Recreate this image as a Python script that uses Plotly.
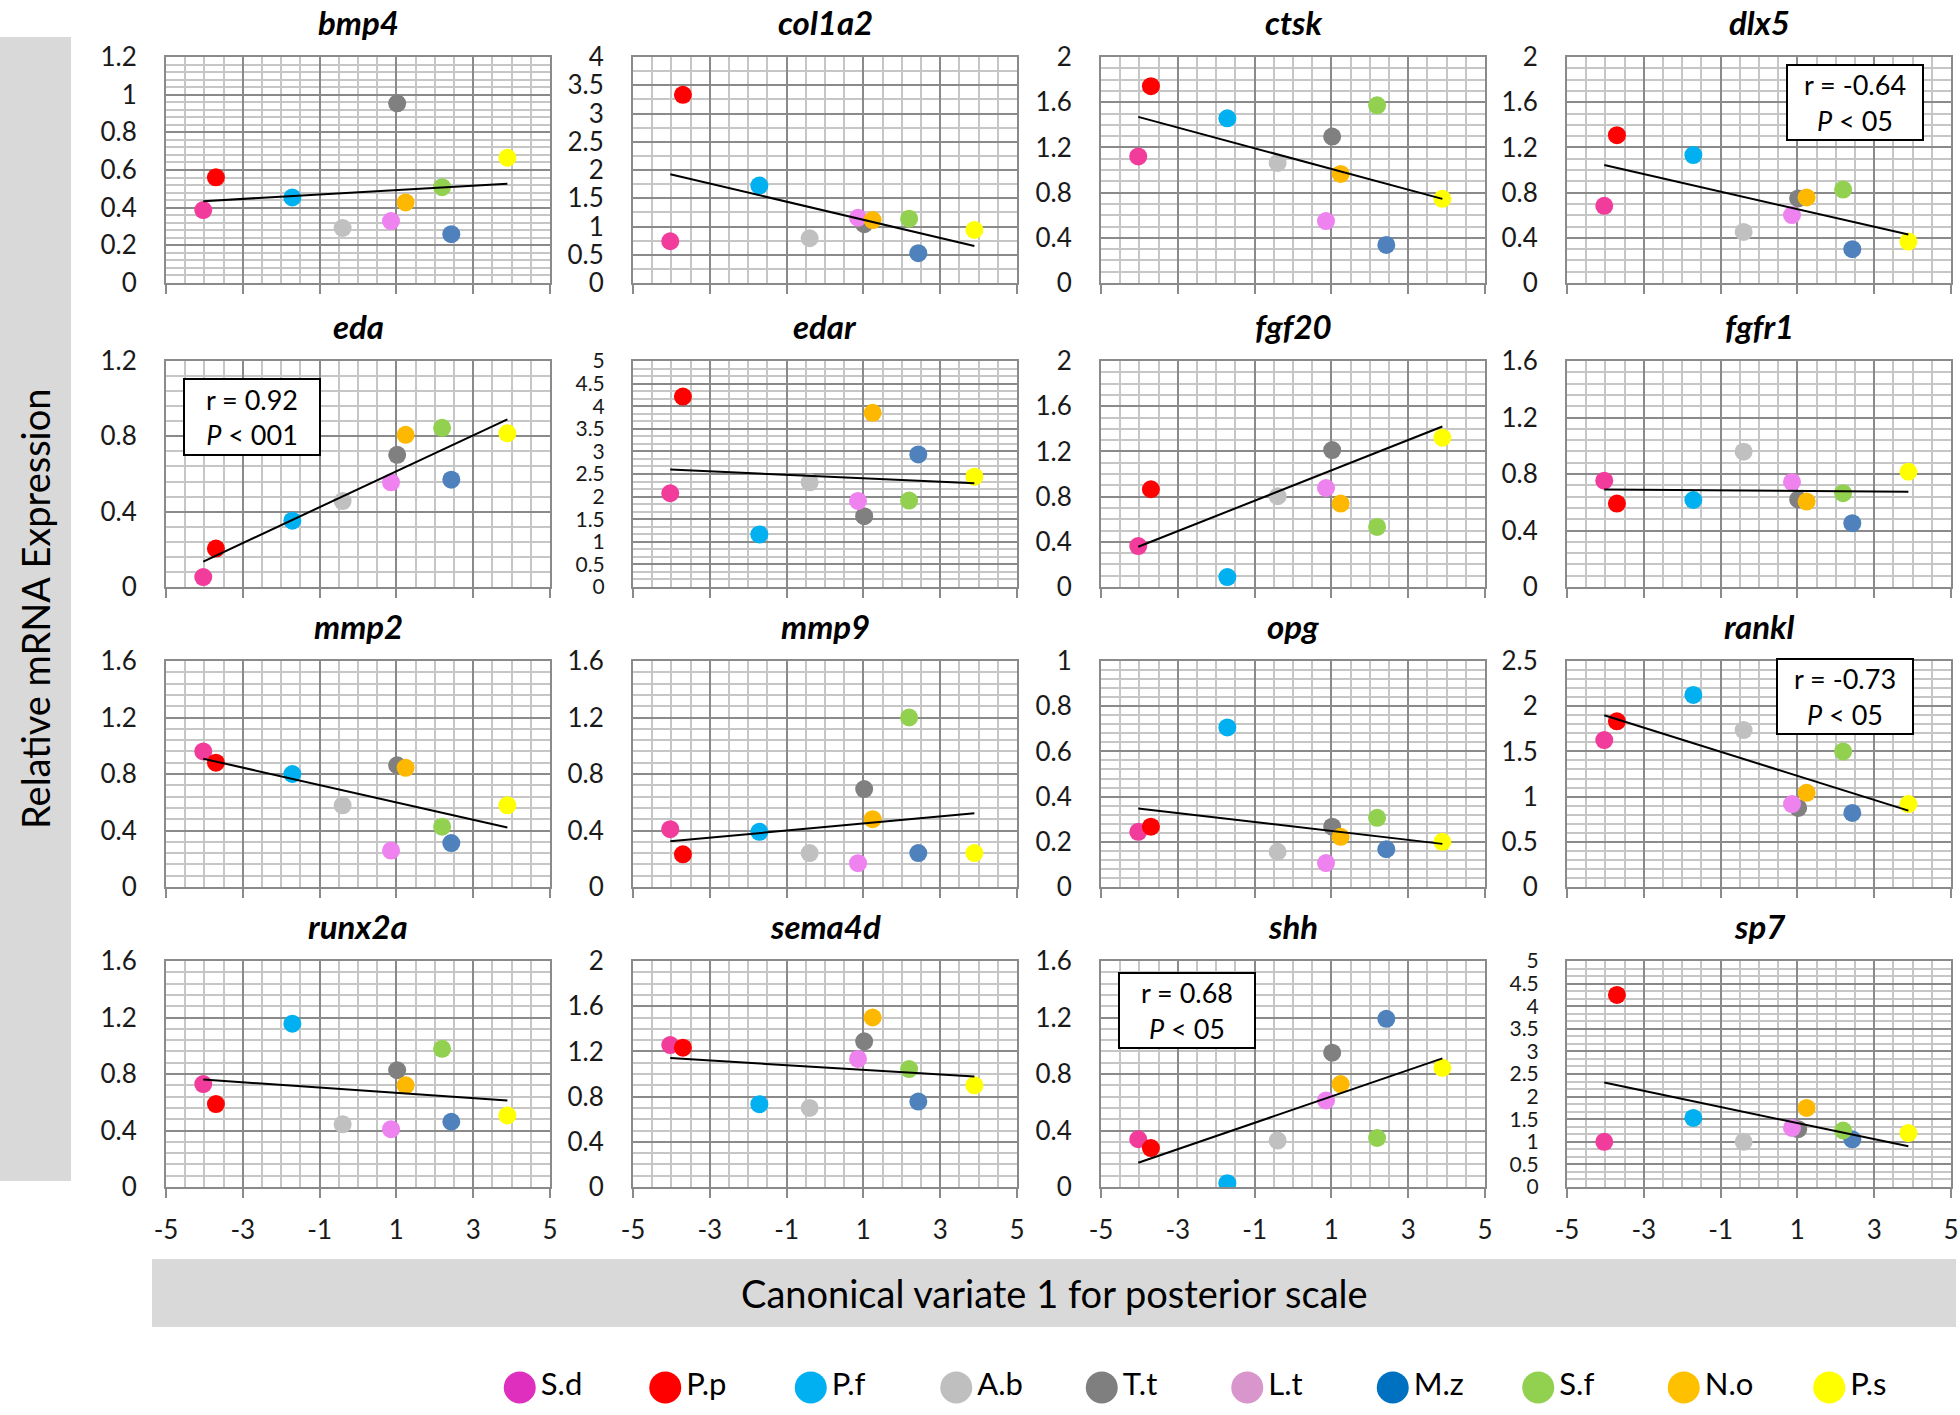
import numpy as np
import plotly.graph_objects as go

# ---------------- data ----------------
species = ["S.d", "P.p", "P.f", "A.b", "T.t", "L.t", "M.z", "S.f", "N.o", "P.s"]
cv1 = [-4.03, -3.70, -1.71, -0.40, 1.02, 0.86, 2.43, 2.19, 1.24, 3.89]

plot_colors = ["#F23C9B", "#FF0000", "#00B0F0", "#C0C0C0", "#808080",
               "#EE82EE", "#4F81BD", "#92D050", "#FFB800", "#FFFF00"]
legend_colors = ["#DF2FBF", "#FF0000", "#00B0F0", "#BFBFBF", "#7F7F7F",
                 "#D896CC", "#0070C0", "#92D050", "#FFC000", "#FFFF00"]

genes = ["bmp4", "col1a2", "ctsk", "dlx5", "eda", "edar", "fgf20", "fgfr1",
         "mmp2", "mmp9", "opg", "rankl", "runx2a", "sema4d", "shh", "sp7"]

bmp4 = [0.387, 0.561, 0.454, 0.292, 0.954, 0.329, 0.259, 0.509, 0.428, 0.665]
col1a2 = [0.739, 3.33, 1.724, 0.792, 1.04, 1.155, 0.528, 1.138, 1.114, 0.938]
ctsk = [1.120, 1.742, 1.457, 1.062, 1.296, 0.548, 0.337, 1.572, 0.965, 0.745]
dlx5 = [0.683, 1.308, 1.132, 0.452, 0.748, 0.601, 0.299, 0.827, 0.757, 0.367]
eda = [0.053, 0.204, 0.352, 0.456, 0.702, 0.556, 0.570, 0.845, 0.808, 0.816]
edar = [2.074, 4.213, 1.162, 2.316, 1.566, 1.904, 2.934, 1.912, 3.853, 2.441]
fgf20 = [0.362, 0.865, 0.088, 0.803, 1.212, 0.876, 2.42, 0.532, 0.738, 1.321]  # M.z lies above the axis maximum
fgfr1 = [0.753, 0.591, 0.616, 0.958, 0.62, 0.744, 0.452, 0.664, 0.605, 0.816]
mmp2 = [0.96, 0.88, 0.80, 0.578, 0.862, 0.258, 0.311, 0.427, 0.844, 0.578]
mmp9 = [0.409, 0.231, 0.391, 0.24, 0.693, 0.169, 0.24, 1.20, 0.48, 0.24]
opg = [0.244, 0.267, 0.706, 0.156, 0.267, 0.106, 0.167, 0.306, 0.222, 0.2]
rankl = [1.625, 1.833, 2.125, 1.736, 0.875, 0.917, 0.819, 1.5, 1.042, 0.917]
runx2a = [0.729, 0.587, 1.156, 0.444, 0.827, 0.409, 0.462, 0.978, 0.72, 0.507]
sema4d = [1.256, 1.233, 0.733, 0.7, 1.289, 1.133, 0.756, 1.044, 1.5, 0.9]
shh = [0.338, 0.276, 0.027, 0.329, 0.951, 0.613, 1.191, 0.347, 0.729, 0.844]
sp7 = [1.0, 4.25, 1.528, 1.0, 1.278, 1.306, 1.056, 1.25, 1.75, 1.194]

y_max = [1.2, 4, 2, 2, 1.2, 5, 2, 1.6, 1.6, 1.6, 1, 2.5, 1.6, 2, 1.6, 5]
y_major = [0.2, 0.5, 0.4, 0.4, 0.4, 0.5, 0.4, 0.4, 0.4, 0.4, 0.2, 0.5, 0.4, 0.4, 0.4, 0.5]
y_minor_div = [5, 2, 4, 4, 5, 3, 4, 5, 5, 5, 5, 5, 5, 4, 5, 3]

x_tick_vals = [-5, -3, -1, 1, 3, 5]
x_tick_text = ["-5", "-3", "-1", "1", "3", "5"]

stats_genes = ["dlx5", "eda", "rankl", "shh"]
stats_r = ["-0.64", "0.92", "-0.73", "0.68"]
stats_p = ["05", "001", "05", "05"]

expr = {"bmp4": bmp4, "col1a2": col1a2, "ctsk": ctsk, "dlx5": dlx5, "eda": eda,
        "edar": edar, "fgf20": fgf20, "fgfr1": fgfr1, "mmp2": mmp2, "mmp9": mmp9,
        "opg": opg, "rankl": rankl, "runx2a": runx2a, "sema4d": sema4d,
        "shh": shh, "sp7": sp7}

# ---------------- layout geometry (px) ----------------
W, H = 1960, 1415
col_left = [166, 633, 1101, 1567]
plot_w = 384
row_top = [57, 361, 661, 961]
plot_h = 226

FONT = "Lato"
MAJOR = "#8a8a8a"
MINOR = "#c6c6c6"

# stats box positions in axis-domain coordinates: (x_center, y_center, w_px, h_px)
box_pos = {"dlx5": (0.75, 0.80, 134, 73), "eda": (0.225, 0.753, 134, 74),
           "rankl": (0.723, 0.845, 134, 73), "shh": (0.225, 0.78, 134, 73)}

fig = go.Figure()
annotations = []
layout_axes = {}

for i, g in enumerate(genes):
    r, c = divmod(i, 4)
    k = i + 1
    xs = "" if k == 1 else str(k)
    vals = expr[g]
    fig.add_trace(go.Scatter(
        x=cv1, y=vals, mode="markers",
        marker=dict(size=18, color=plot_colors, line=dict(width=0)),
        xaxis="x" + xs, yaxis="y" + xs, showlegend=False, hoverinfo="skip"))
    # linear trend line (least squares over all species)
    xv = np.array(cv1, dtype=float)
    yv = np.array(vals, dtype=float)
    slope, inter = np.polyfit(xv, yv, 1)
    xe = np.array([xv.min(), xv.max()])
    fig.add_trace(go.Scatter(
        x=xe, y=slope * xe + inter, mode="lines",
        line=dict(color="black", width=2),
        xaxis="x" + xs, yaxis="y" + xs, showlegend=False, hoverinfo="skip"))

    l = col_left[c]
    t = row_top[r]
    crowded = (y_max[i] / y_major[i]) > 8
    yfont = dict(family=FONT, size=21 if crowded else 26, color="#1a1a1a")
    layout_axes["xaxis" + xs] = dict(
        domain=[l / W, (l + plot_w) / W], range=[-5, 5],
        tickmode="array", tickvals=x_tick_vals, ticktext=x_tick_text,
        showgrid=True, gridcolor=MAJOR, gridwidth=2,
        minor=dict(tick0=-5, dtick=0.5, showgrid=True, gridcolor=MINOR, gridwidth=2),
        ticks="outside", ticklen=9, tickwidth=2, tickcolor=MAJOR,
        showline=True, linecolor=MAJOR, linewidth=2, mirror=True,
        zeroline=False, showticklabels=(r == 3), ticklabelstandoff=10,
        tickfont=dict(family=FONT, size=26, color="#1a1a1a"), automargin=False,
        anchor="y" + xs, fixedrange=True)
    layout_axes["yaxis" + xs] = dict(
        domain=[1 - (t + plot_h) / H, 1 - t / H], range=[0, y_max[i]],
        tick0=0, dtick=y_major[i],
        showgrid=True, gridcolor=MAJOR, gridwidth=2,
        minor=dict(tick0=0, dtick=y_major[i] / y_minor_div[i], showgrid=True,
                   gridcolor=MINOR, gridwidth=2),
        ticks="", showline=True, linecolor=MAJOR, linewidth=2, mirror=True,
        zeroline=False, ticklabelstandoff=22,
        tickfont=yfont, automargin=False,
        anchor="x" + xs, fixedrange=True)
    annotations.append(dict(
        text="<b><i>%s</i></b>" % g, xref="paper", yref="paper",
        x=(l + plot_w / 2) / W, y=1 - (t - 35) / H, xanchor="center", yanchor="middle",
        showarrow=False, font=dict(family=FONT, size=33, color="black")))

for g, rv, pv in zip(stats_genes, stats_r, stats_p):
    k = genes.index(g) + 1
    xs = "" if k == 1 else str(k)
    bx, by, bw, bh = box_pos[g]
    annotations.append(dict(
        text="r = %s<br><i>P</i> &lt; %s" % (rv, pv),
        xref="x%s domain" % xs, yref="y%s domain" % xs, x=bx, y=by,
        xanchor="center", yanchor="middle", showarrow=False,
        width=bw, height=bh, borderpad=0, bordercolor="black", borderwidth=2,
        bgcolor="white", font=dict(family=FONT, size=27, color="black")))

# legend built on its own category axis
fig.add_trace(go.Scatter(
    x=species, y=[0] * len(species), mode="markers+text",
    marker=dict(size=32, color=legend_colors), text=species,
    textposition="middle right", textfont=dict(family=FONT, size=31, color="black"),
    xaxis="x17", yaxis="y17", showlegend=False, hoverinfo="skip", cliponaxis=False))
layout_axes["xaxis17"] = dict(domain=[447 / W, 1902 / W], range=[-0.5, 9.5],
                              type="category", visible=False, anchor="y17",
                              fixedrange=True, automargin=False)
layout_axes["yaxis17"] = dict(domain=[1 - 1410 / H, 1 - 1365 / H], range=[-1, 1],
                              visible=False, anchor="x17", fixedrange=True, automargin=False)

# axis titles in grey boxes
shapes = [
    dict(type="rect", xref="paper", yref="paper", x0=0, x1=71 / W,
         y0=1 - 1181 / H, y1=1 - 37 / H, fillcolor="#d9d9d9", line=dict(width=0), layer="below"),
    dict(type="rect", xref="paper", yref="paper", x0=152 / W, x1=1956 / W,
         y0=1 - 1327 / H, y1=1 - 1259 / H, fillcolor="#d9d9d9", line=dict(width=0), layer="below"),
]
annotations.append(dict(text="Relative mRNA Expression", xref="paper", yref="paper",
                        x=35 / W, y=1 - 609 / H, textangle=-90, showarrow=False,
                        xanchor="center", yanchor="middle",
                        font=dict(family=FONT, size=38, color="black")))
annotations.append(dict(text="Canonical variate 1 for posterior scale", xref="paper", yref="paper",
                        x=1054 / W, y=1 - 1293 / H, showarrow=False,
                        xanchor="center", yanchor="middle",
                        font=dict(family=FONT, size=38, color="black")))

fig.update_layout(width=W, height=H, autosize=False,
                  margin=dict(l=0, r=0, t=0, b=0, pad=0),
                  paper_bgcolor="white", plot_bgcolor="white",
                  annotations=annotations, shapes=shapes, **layout_axes)

fig.write_html("out.html", config={"displayModeBar": False},
               post_script="document.body.style.margin='0px';"
                           "document.body.style.padding='0px';"
                           "document.body.style.overflow='hidden';")
